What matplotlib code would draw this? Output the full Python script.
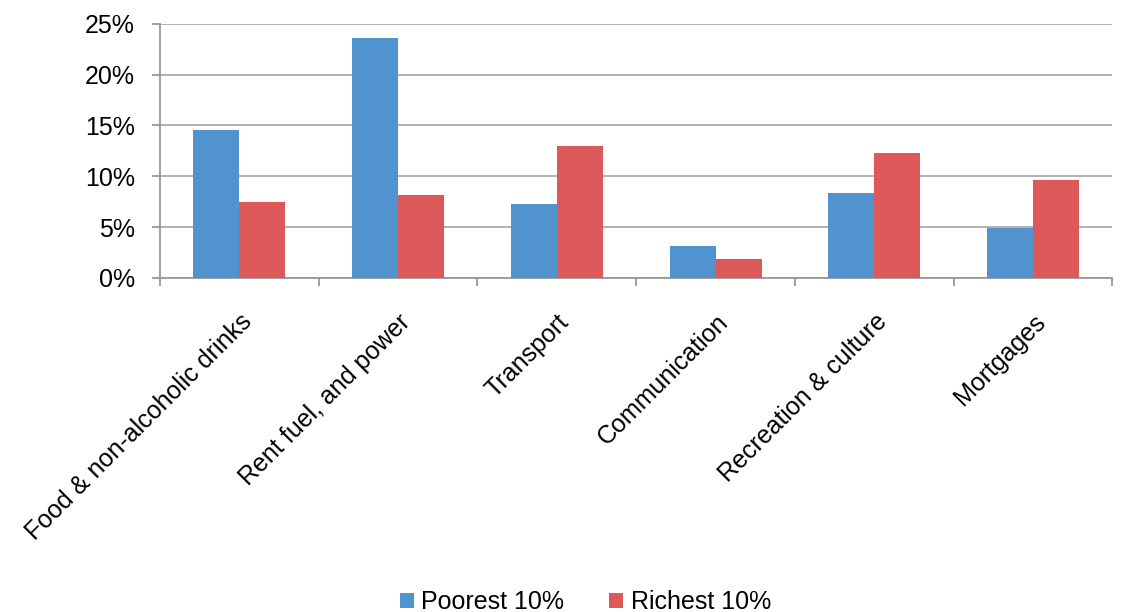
import numpy as np
import matplotlib
matplotlib.use("Agg")
from matplotlib import pyplot as plt
from matplotlib.ticker import FuncFormatter, FixedLocator

categories = ["Food & non-alcoholic drinks", "Rent fuel, and power", "Transport",
              "Communication", "Recreation & culture", "Mortgages"]
poorest = [14.6, 23.6, 7.3, 3.1, 8.4, 4.9]
richest = [7.5, 8.2, 13.0, 1.9, 12.3, 9.6]
series_names = ["Poorest 10%", "Richest 10%"]

plt.rcParams['font.family'] = ['Liberation Sans', 'DejaVu Sans']

fig = plt.figure(figsize=(11.26, 6.12), dpi=100)
ax = fig.add_axes([0.142, 0.546, 0.846, 0.415])

x = np.arange(len(categories))
w = 0.29
ax.bar(x - w / 2, poorest, w, color="#5193CF", label=series_names[0], zorder=3)
ax.bar(x + w / 2, richest, w, color="#DD5959", label=series_names[1], zorder=3)

ax.set_xlim(-0.5, len(categories) - 0.5)
ax.set_ylim(0, 25)
ax.set_yticks(np.arange(0, 26, 5))
ax.yaxis.set_major_formatter(FuncFormatter(lambda v, p: f"{v:.0f}%"))
ax.yaxis.grid(True, color="#AAAAAA", linewidth=1.3, zorder=0)

# ticks at category boundaries, labels at centres
ax.xaxis.set_major_locator(FixedLocator(np.arange(-0.5, len(categories), 1.0)))
ax.xaxis.set_major_formatter(FuncFormatter(lambda v, p: ""))
ax.xaxis.set_minor_locator(FixedLocator(x))
ax.set_xticklabels(categories, minor=True, rotation=45, ha="right",
                   rotation_mode="anchor", fontsize=18)
ax.tick_params(axis="x", which="minor", length=0, pad=23)
ax.tick_params(axis="x", which="major", length=6, color="#999999", width=1.3)
ax.tick_params(axis="y", length=6, color="#999999", width=1.3, labelsize=18, pad=12)

for s in ["top", "right"]:
    ax.spines[s].set_visible(False)
for s in ["left", "bottom"]:
    ax.spines[s].set_color("#999999")
    ax.spines[s].set_linewidth(1.3)

fig.legend(loc="lower center", bbox_to_anchor=(0.52, -0.04), ncol=2, frameon=False,
           fontsize=18, handlelength=0.55, handleheight=0.55, handletextpad=0.3,
           columnspacing=1.8)

fig.savefig("out.png", dpi=100)
